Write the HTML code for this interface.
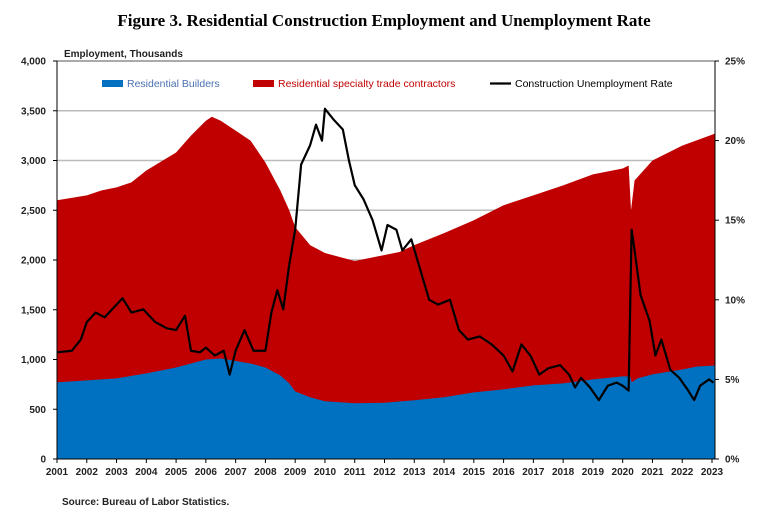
<!DOCTYPE html>
<html><head><meta charset="utf-8"><style>
body{margin:0;background:#fff;font-family:"Liberation Sans",Arial,sans-serif}
svg text{font-family:"Liberation Sans",Arial,sans-serif}
</style></head><body>
<svg id="c" width="768" height="525"></svg>
<script>
const years=[2001,2002,2003,2004,2005,2006,2007,2008,2009,2010,2011,2012,2013,2014,2015,2016,2017,2018,2019,2020,2021,2022,2023];
const leftTicks=[0,500,1000,1500,2000,2500,3000,3500,4000];
const rightTicks=[0,5,10,15,20,25];
const empT=[2001,2002,2003,2004,2005,2006,2006.5,2007,2007.5,2008,2008.5,2008.8,2009,2009.5,2010,2011,2012,2013,2014,2015,2016,2017,2018,2019,2020,2020.25,2020.3,2020.5,2021,2022,2022.5,2023.1];
const builders=[770,790,810,860,920,1000,1010,985,960,920,840,760,680,620,580,560,565,590,620,670,700,740,760,800,830,830,770,810,850,900,930,940];
const empT2=[2001,2002,2002.5,2003,2003.5,2004,2005,2005.5,2006,2006.2,2006.5,2007,2007.5,2008,2008.5,2008.8,2009,2009.5,2010,2011,2011.5,2012,2012.5,2013,2014,2015,2016,2017,2018,2019,2020,2020.2,2020.28,2020.4,2021,2022,2023.1];
const total=[2600,2650,2700,2730,2780,2900,3080,3250,3400,3440,3400,3300,3200,2980,2700,2500,2330,2150,2070,1990,2020,2050,2080,2150,2270,2400,2550,2650,2750,2860,2920,2950,2500,2800,3000,3150,3270];
const rateT=[2001,2001.5,2001.8,2002,2002.3,2002.6,2003,2003.2,2003.5,2003.9,2004.3,2004.7,2005,2005.3,2005.5,2005.8,2006,2006.3,2006.6,2006.8,2007,2007.3,2007.6,2008,2008.2,2008.4,2008.6,2008.8,2009,2009.2,2009.5,2009.7,2009.9,2010,2010.3,2010.6,2010.8,2011,2011.3,2011.6,2011.9,2012.1,2012.4,2012.6,2012.9,2013.2,2013.5,2013.8,2014.2,2014.5,2014.8,2015.2,2015.6,2016,2016.3,2016.6,2016.9,2017.2,2017.5,2017.9,2018.2,2018.4,2018.6,2018.9,2019.2,2019.5,2019.8,2020,2020.2,2020.3,2020.4,2020.6,2020.9,2021.1,2021.3,2021.6,2021.9,2022.2,2022.4,2022.6,2022.9,2023.05];
const rate=[6.7,6.8,7.5,8.6,9.2,8.9,9.7,10.1,9.2,9.4,8.6,8.2,8.1,9.0,6.8,6.7,7.0,6.5,6.8,5.3,6.8,8.1,6.8,6.8,9.2,10.6,9.4,12.2,14.4,18.5,19.7,21.0,20.0,22.0,21.3,20.7,18.8,17.2,16.3,15.0,13.1,14.7,14.4,13.1,13.8,11.9,10.0,9.7,10.0,8.1,7.5,7.7,7.2,6.5,5.5,7.2,6.5,5.3,5.7,5.9,5.3,4.5,5.1,4.5,3.7,4.6,4.8,4.6,4.3,14.4,13.1,10.3,8.7,6.5,7.5,5.6,5.1,4.3,3.7,4.6,5.0,4.8];
const L=57,R=715,T=61,B=459;
const x=t=>L+(t-2001)*(712-57)/22;
const y=v=>B-v*(B-T)/4000;
const yr=v=>B-v*(B-T)/25;
const s=document.getElementById('c'),NS='http://www.w3.org/2000/svg';
function mk(tag,a,txt){const e=document.createElementNS(NS,tag);for(const k in a)e.setAttribute(k,a[k]);if(txt!==undefined)e.textContent=txt;s.appendChild(e);return e;}
let e;
e=mk('text',{x:384,y:26,'text-anchor':'middle','font-size':'17','font-weight':'bold',fill:'#000',style:'font-family:"Liberation Serif",serif'},'Figure 3. Residential Construction Employment and Unemployment Rate');

e=mk('text',{x:64,y:57,'font-size':'10','font-weight':'bold',fill:'#222'},'Employment, Thousands');

leftTicks.forEach(v=>{if(v>0&&v<4000){e=mk('line',{x1:L,x2:R,y1:y(v),y2:y(v),stroke:'#bbb','stroke-width':1.5});}
 e=mk('text',{x:46,y:y(v)+3.5,'text-anchor':'end','font-size':'10','font-weight':'bold',fill:'#222'},v.toLocaleString('en-US'));
 
 mk('line',{x1:L-4,x2:L,y1:y(v),y2:y(v),stroke:'#000'});});
let d='M'+x(empT2[0])+','+B;empT2.forEach((t,i)=>d+=' L'+x(t)+','+y(total[i]));d+=' L'+x(empT2[empT2.length-1])+','+B+'Z';
e=mk('path',{d:d,fill:'#c00000'});
d='M'+x(empT[0])+','+B;empT.forEach((t,i)=>d+=' L'+x(t)+','+y(builders[i]));d+=' L'+x(empT[empT.length-1])+','+B+'Z';
e=mk('path',{d:d,fill:'#0070c0'});
d='';rateT.forEach((t,i)=>d+=(i?' L':'M')+x(t)+','+yr(rate[i]));
e=mk('path',{d:d,fill:'none',stroke:'#000','stroke-width':2.2,'stroke-linejoin':'round'});
mk('line',{x1:L,x2:R,y1:T,y2:T,stroke:'#555'});
mk('line',{x1:L,x2:L,y1:T,y2:B,stroke:'#000'});
mk('line',{x1:R,x2:R,y1:T,y2:B,stroke:'#000'});
mk('line',{x1:L,x2:R,y1:B,y2:B,stroke:'#000'});
years.forEach(t=>{mk('line',{x1:x(t),x2:x(t),y1:B,y2:B+4,stroke:'#000'});
 e=mk('text',{x:x(t),y:B+16,'text-anchor':'middle','font-size':'10','font-weight':'bold',fill:'#222'},String(t));
 });
rightTicks.forEach(v=>{mk('line',{x1:R,x2:R+4,y1:yr(v),y2:yr(v),stroke:'#000'});
 e=mk('text',{x:R+10,y:yr(v)+3.5,'font-size':'10','font-weight':'bold',fill:'#222'},v+'%');
 });
e=mk('rect',{x:102,y:80,width:21,height:7,fill:'#0070c0'});
e=mk('text',{x:127,y:87,'font-size':'10.5',fill:'#4a70b0'},'Residential Builders');
e=mk('rect',{x:253,y:80,width:21,height:7,fill:'#c00000'});
e=mk('text',{x:278,y:87,'font-size':'10.5',fill:'#c00000'},'Residential specialty trade contractors');
e=mk('line',{x1:490,x2:511,y1:83.5,y2:83.5,stroke:'#000','stroke-width':2.2});
e=mk('text',{x:515,y:87,'font-size':'10.5',fill:'#000'},'Construction Unemployment Rate');
e=mk('text',{x:62,y:505,'font-size':'10','font-weight':'bold',fill:'#222'},'Source: Bureau of Labor Statistics.');
</script>
</body></html>
